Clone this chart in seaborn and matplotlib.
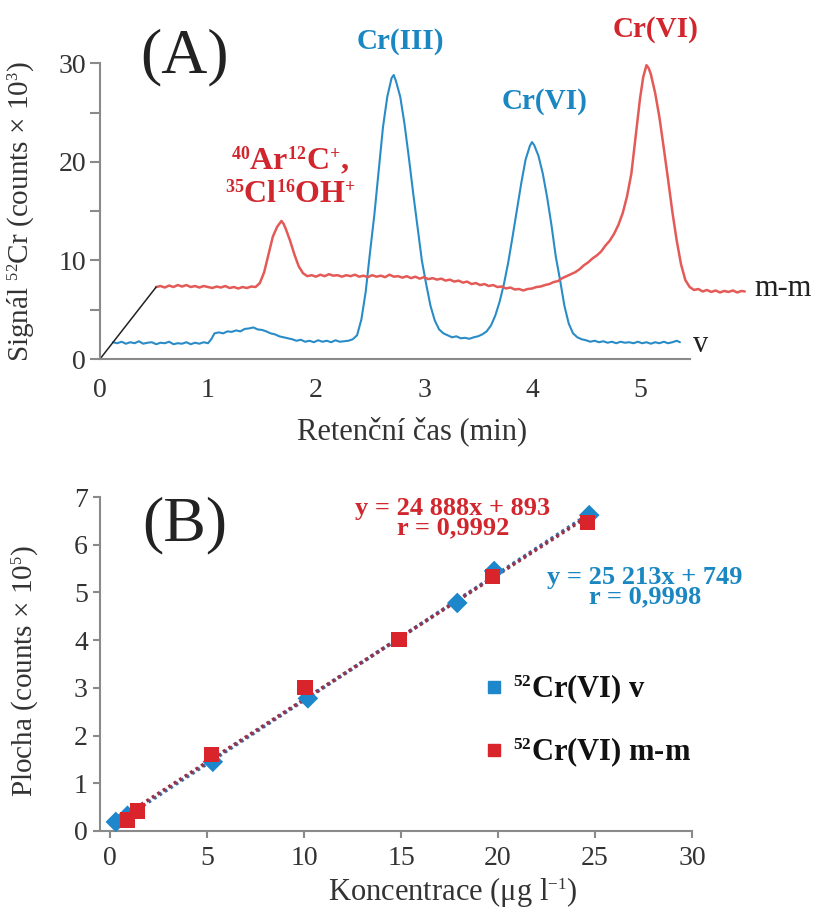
import numpy as np
import pandas as pd
import seaborn as sns
import matplotlib
matplotlib.use("Agg")
import matplotlib.pyplot as plt
from matplotlib.lines import Line2D
import matplotlib._mathtext as _mt

# ---------------- data: panel A (chromatograms) ----------------
blue_t = [0.12, 0.16, 0.20, 0.24, 0.28, 0.32, 0.36, 0.40, 0.44, 0.48, 0.52, 0.56, 0.60, 0.64, 0.68,
          0.72, 0.76, 0.80, 0.84, 0.88, 0.92, 0.96, 1.00, 1.03, 1.06, 1.10, 1.14, 1.18, 1.22, 1.26,
          1.30, 1.34, 1.38, 1.42, 1.46, 1.50, 1.54, 1.58, 1.62, 1.66, 1.70, 1.74, 1.78, 1.82, 1.86,
          1.90, 1.94, 1.98, 2.02, 2.06, 2.10, 2.14, 2.18, 2.22, 2.26, 2.30, 2.34, 2.38, 2.42, 2.46,
          2.50, 2.54, 2.58, 2.62, 2.66, 2.70, 2.72, 2.74, 2.78, 2.82, 2.86, 2.90, 2.94, 2.98, 3.02,
          3.06, 3.10, 3.14, 3.18, 3.22, 3.26, 3.30, 3.34, 3.38, 3.42, 3.46, 3.50, 3.54, 3.58, 3.62,
          3.66, 3.70, 3.74, 3.78, 3.82, 3.86, 3.90, 3.94, 3.98, 4.00, 4.02, 4.06, 4.10, 4.14, 4.18,
          4.22, 4.26, 4.30, 4.34, 4.38, 4.42, 4.46, 4.50, 4.54, 4.58, 4.62, 4.66, 4.70, 4.74, 4.78,
          4.82, 4.86, 4.90, 4.94, 4.98, 5.02, 5.06, 5.10, 5.14, 5.18, 5.22, 5.26, 5.30, 5.34, 5.37]
blue_s = [1.70, 1.60, 1.75, 1.55, 1.70, 1.60, 1.80, 1.55, 1.65, 1.70, 1.50, 1.65, 1.60, 1.75, 1.50,
          1.60, 1.55, 1.70, 1.50, 1.65, 1.55, 1.70, 1.60, 2.00, 2.60, 2.70, 2.60, 2.80, 2.75, 2.90,
          2.80, 3.05, 3.10, 3.20, 3.00, 2.95, 2.80, 2.60, 2.50, 2.30, 2.20, 2.10, 2.00, 1.85, 1.95,
          1.75, 1.85, 1.70, 1.90, 1.75, 1.85, 1.70, 1.90, 1.75, 1.80, 1.85, 2.00, 2.40, 4.00, 6.80,
          10.8, 14.6, 19.0, 23.5, 26.6, 28.5, 28.8, 28.2, 26.6, 23.8, 20.4, 16.8, 13.4, 10.0, 7.60,
          5.40, 3.90, 3.00, 2.60, 2.40, 2.20, 2.30, 2.10, 2.15, 2.05, 2.20, 2.30, 2.50, 2.80, 3.40,
          4.40, 5.80, 7.60, 9.80, 12.4, 15.1, 17.8, 20.2, 21.6, 22.0, 21.7, 20.6, 18.8, 16.4, 13.6,
          10.4, 8.00, 5.40, 3.60, 2.60, 2.20, 2.00, 1.90, 1.75, 1.85, 1.70, 1.80, 1.65, 1.75, 1.60,
          1.75, 1.65, 1.70, 1.60, 1.75, 1.60, 1.70, 1.55, 1.70, 1.60, 1.75, 1.60, 1.70, 1.85, 1.70]

red_t = [0.52, 0.56, 0.60, 0.64, 0.68, 0.72, 0.76, 0.80, 0.84, 0.88, 0.92, 0.96, 1.00, 1.04, 1.08,
         1.12, 1.16, 1.20, 1.24, 1.28, 1.32, 1.36, 1.40, 1.44, 1.48, 1.52, 1.56, 1.60, 1.64, 1.68,
         1.70, 1.72, 1.76, 1.80, 1.84, 1.88, 1.92, 1.96, 2.00, 2.04, 2.08, 2.12, 2.16, 2.20, 2.24,
         2.28, 2.32, 2.36, 2.40, 2.44, 2.48, 2.52, 2.56, 2.60, 2.64, 2.68, 2.72, 2.76, 2.80, 2.84,
         2.88, 2.92, 2.96, 3.00, 3.04, 3.08, 3.12, 3.16, 3.20, 3.24, 3.28, 3.32, 3.36, 3.40, 3.44,
         3.48, 3.52, 3.56, 3.60, 3.64, 3.68, 3.72, 3.76, 3.80, 3.84, 3.88, 3.92, 3.96, 4.00, 4.04,
         4.08, 4.12, 4.16, 4.20, 4.24, 4.28, 4.32, 4.36, 4.40, 4.44, 4.48, 4.52, 4.56, 4.60, 4.64,
         4.68, 4.72, 4.76, 4.80, 4.84, 4.88, 4.92, 4.96, 5.00, 5.03, 5.06, 5.08, 5.10, 5.14, 5.18,
         5.22, 5.26, 5.30, 5.34, 5.38, 5.42, 5.46, 5.50, 5.54, 5.58, 5.62, 5.66, 5.70, 5.74, 5.78,
         5.82, 5.86, 5.90, 5.94, 5.97]
red_s = [7.30, 7.40, 7.25, 7.45, 7.30, 7.50, 7.35, 7.50, 7.30, 7.40, 7.25, 7.40, 7.30, 7.20, 7.35,
         7.25, 7.40, 7.20, 7.30, 7.15, 7.30, 7.20, 7.35, 7.30, 7.70, 8.80, 10.6, 12.4, 13.4, 14.0,
         13.7, 13.2, 12.0, 10.6, 9.40, 8.70, 8.40, 8.50, 8.35, 8.55, 8.40, 8.60, 8.45, 8.50, 8.35,
         8.50, 8.40, 8.55, 8.35, 8.45, 8.30, 8.50, 8.35, 8.45, 8.30, 8.55, 8.35, 8.40, 8.25, 8.40,
         8.20, 8.35, 8.15, 8.30, 8.10, 8.20, 8.05, 8.15, 7.95, 8.05, 7.85, 7.95, 7.75, 7.85, 7.60,
         7.70, 7.50, 7.60, 7.40, 7.50, 7.30, 7.35, 7.15, 7.25, 7.05, 7.10, 6.95, 7.10, 7.15, 7.30,
         7.35, 7.50, 7.60, 7.80, 7.90, 8.20, 8.40, 8.60, 8.80, 9.10, 9.50, 9.80, 10.2, 10.5, 10.9,
         11.5, 12.0, 12.7, 13.6, 14.8, 16.5, 18.8, 22.6, 26.4, 28.6, 29.8, 29.5, 28.9, 27.0, 24.5,
         21.4, 18.2, 14.9, 12.0, 9.60, 8.00, 7.30, 7.00, 7.10, 6.85, 7.00, 6.80, 6.95, 6.75, 6.90,
         6.80, 6.95, 6.75, 6.90, 6.85]

# offset (waterfall) connector from origin to start of m-m trace
offset_t = [0.0, 0.52]
offset_s = [0.0, 7.30]

# ---------------- data: panel B (calibration) ----------------
conc_v = [0.3, 0.9, 5.3, 10.2, 17.9, 19.8, 24.7]
area_v = [0.19, 0.32, 1.45, 2.78, 4.78, 5.45, 6.62]
conc_mm = [0.9, 1.4, 5.25, 10.05, 14.9, 19.7, 24.6]
area_mm = [0.23, 0.42, 1.60, 3.00, 4.02, 5.33, 6.47]

# ---------------- style ----------------
sns.set_theme(style="white")
plt.rcParams["font.family"] = ["Liberation Serif", "DejaVu Serif"]
plt.rcParams["mathtext.fontset"] = "custom"
plt.rcParams["mathtext.rm"] = "Liberation Serif"
plt.rcParams["mathtext.it"] = "Liberation Serif:italic"
plt.rcParams["mathtext.bf"] = "Liberation Serif:bold"
try:
    _mt.SHRINK_FACTOR = 0.56  # smaller superscripts, as in the reference
except Exception:
    pass

TRACE_BLUE = "#2a8cc6"
TRACE_RED = "#e35a57"
TXT_BLUE = "#1a87c2"
TXT_RED = "#d1262d"
MK_BLUE = "#1e87cc"
MK_RED = "#d9242b"
SPINE = "#8a8a8a"
TICKC = "#333333"

W, H = 821, 915
fig = plt.figure(figsize=(W / 100, H / 100), dpi=100)


def px_axes(l, r, t, b):
    return fig.add_axes([l / W, 1 - b / H, (r - l) / W, (b - t) / H])


# ---------------- panel A ----------------
ax1 = px_axes(100, 810, 15, 359)
ax1.set_xlim(0, 710 / 108)
ax1.set_ylim(0, 344 / 9.86)

df_b = pd.DataFrame({"t": blue_t, "s": blue_s})
df_r = pd.DataFrame({"t": red_t, "s": red_s})
sns.lineplot(data=df_b, x="t", y="s", ax=ax1, color=TRACE_BLUE, lw=1.5, sort=False, estimator=None)
sns.lineplot(data=df_r, x="t", y="s", ax=ax1, color=TRACE_RED, lw=1.8, sort=False, estimator=None)
ax1.plot(offset_t, offset_s, color="#222222", lw=1.1)

for s in ["top", "right"]:
    ax1.spines[s].set_visible(False)
for s in ["left", "bottom"]:
    ax1.spines[s].set_color(SPINE)
    ax1.spines[s].set_linewidth(1.5)
ax1.spines["left"].set_bounds(0, 30)
ax1.spines["bottom"].set_bounds(0, 5.46)
ax1.set_xticks([0, 1, 2, 3, 4, 5])
ax1.set_yticks([0, 10, 20, 30])
ax1.set_yticks([5, 15, 25], minor=True)
ax1.tick_params(axis="y", which="both", left=True, direction="out", length=7, width=1.5,
                color=SPINE, labelsize=20, labelcolor=TICKC, pad=3)
ax1.tick_params(axis="x", bottom=False, labelsize=20, labelcolor=TICKC, pad=8)
ax1.set_xlabel("Retenční čas (min)", fontsize=22, color=TICKC)
ax1.xaxis.set_label_coords(312 / 710, -57 / 344)
ax1.set_ylabel("Signál $^{52}$Cr (counts × 10$^{3}$)", fontsize=21, color=TICKC)
ax1.yaxis.set_label_coords(-64 / 710, 0.5 - (212 - 187) / 344)

ax1.text(0.78, 30.6, "(A)", fontsize=46, ha="center", va="center", color="#222222")
ax1.text(2.78, 32.2, "Cr(III)", fontsize=21, fontweight="bold", color=TXT_BLUE, ha="center", va="center")
ax1.text(4.12, 26.1, "Cr(VI)", fontsize=21, fontweight="bold", color=TXT_BLUE, ha="center", va="center")
ax1.text(5.14, 33.4, "Cr(VI)", fontsize=21, fontweight="bold", color=TXT_RED, ha="center", va="center")
ax1.text(1.76, 20.1, r"$^{\mathbf{40}}\mathbf{Ar}^{\mathbf{12}}\mathbf{C}^{\mathbf{+}}\mathbf{,}$",
         fontsize=23, color=TXT_RED, ha="center", va="center")
ax1.text(1.76, 16.6, r"$^{\mathbf{35}}\mathbf{Cl}^{\mathbf{16}}\mathbf{OH}^{\mathbf{+}}$",
         fontsize=23, color=TXT_RED, ha="center", va="center")
ax1.text(6.06, 7.2, "m-m", fontsize=22, color="#222222", ha="left", va="center")
ax1.text(5.49, 1.5, "v", fontsize=22, color="#222222", ha="left", va="center")

# ---------------- panel B ----------------
ax2 = px_axes(100.3, 810, 470, 831)
ax2.set_xlim(-0.5, 36.08)
ax2.set_ylim(0, 361 / 47.71)

df_v = pd.DataFrame({"c": conc_v, "a": area_v})
df_m = pd.DataFrame({"c": conc_mm, "a": area_mm})
sns.regplot(data=df_v, x="c", y="a", ax=ax2, scatter=False, ci=None, truncate=True,
            line_kws=dict(color="#3a6fa8", lw=2.6, ls=(0, (0.8, 1.0))))
sns.regplot(data=df_m, x="c", y="a", ax=ax2, scatter=False, ci=None, truncate=True,
            line_kws=dict(color="#9a3048", lw=2.6, ls=(0.9, (0.8, 1.0))))
sns.scatterplot(data=df_v, x="c", y="a", ax=ax2, marker="D", s=110, color=MK_BLUE,
                edgecolor="none", clip_on=False, zorder=4)
sns.scatterplot(data=df_m, x="c", y="a", ax=ax2, marker="s", s=120, color=MK_RED,
                edgecolor="none", clip_on=False, zorder=5)

for s in ["top", "right"]:
    ax2.spines[s].set_visible(False)
for s in ["left", "bottom"]:
    ax2.spines[s].set_color(SPINE)
    ax2.spines[s].set_linewidth(1.5)
ax2.spines["left"].set_bounds(0, 7)
ax2.spines["bottom"].set_bounds(-0.4, 30)
ax2.set_xticks([0, 5, 10, 15, 20, 25, 30])
ax2.set_yticks(range(0, 8))
ax2.tick_params(axis="both", direction="out", length=5, width=1.5, color=SPINE,
                labelsize=20, labelcolor=TICKC, left=True, bottom=True)
ax2.tick_params(axis="x", pad=6)
ax2.tick_params(axis="y", pad=4)
ax2.set_xlabel("Koncentrace (μg l$^{-1}$)", fontsize=22, color=TICKC)
ax2.xaxis.set_label_coords((453 - 100.3) / 709.7, -44 / 361)
ax2.set_ylabel("Plocha (counts × 10$^{5}$)", fontsize=21, color=TICKC)
ax2.yaxis.set_label_coords(-60 / 709.7, 0.5 - (671 - 650.5) / 361)

ax2.text(3.87, 6.41, "(B)", fontsize=46, ha="center", va="center", color="#222222")


def dx(px):
    return (px - 110) / 19.4


def dy(py):
    return (831 - py) / 47.71


ax2.text(dx(453), dy(518), "y = 24 888x + 893\nr = 0,9992", fontsize=19, fontweight="bold",
         color=TXT_RED, ha="center", va="center", multialignment="center", linespacing=0.78)
ax2.text(dx(645), dy(587), "y = 25 213x + 749\nr = 0,9998", fontsize=19, fontweight="bold",
         color=TXT_BLUE, ha="center", va="center", multialignment="center", linespacing=0.78)

handles = [Line2D([], [], marker="s", ls="", color=MK_BLUE, markersize=9),
           Line2D([], [], marker="s", ls="", color=MK_RED, markersize=9)]
labels = [r"$^{\mathbf{52}}$Cr(VI) v", r"$^{\mathbf{52}}$Cr(VI) m-m"]
leg = ax2.legend(handles, labels, loc="center left", bbox_to_anchor=(485 / W, 1 - 721 / H),
                 bbox_transform=fig.transFigure, frameon=False, borderpad=0, borderaxespad=0,
                 handlelength=0.6, handletextpad=0.3, labelspacing=0.95,
                 prop=dict(family="Liberation Serif", weight="bold", size=22))
for t in leg.get_texts():
    t.set_color("#111111")

fig.savefig("out.png", dpi=100)
